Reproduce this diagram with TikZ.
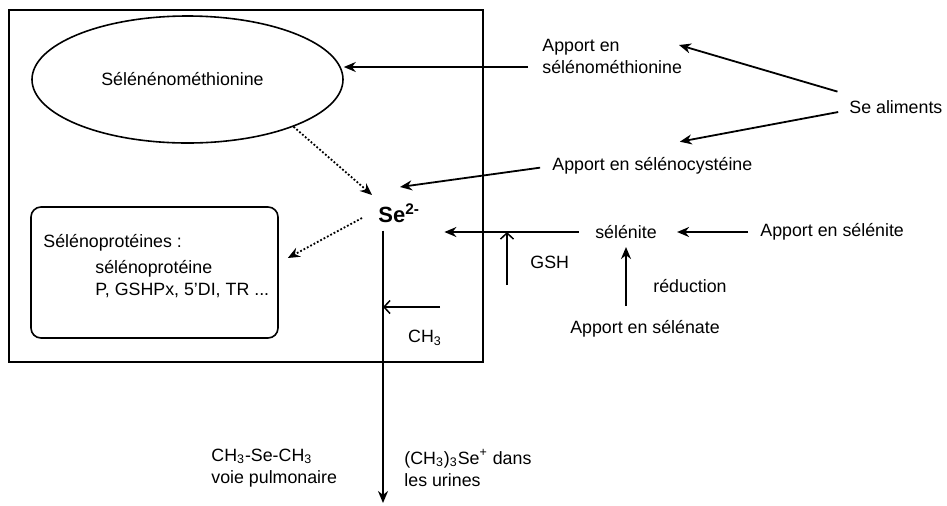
\documentclass[tikz,border=0pt]{standalone}
\usepackage{fontspec}
\setmainfont{Liberation Sans}
\usepackage{tikz}
\usetikzlibrary{positioning,arrows.meta,calc,shapes.geometric}
\newcommand{\labsize}{\fontsize{8.9}{11}\selectfont}
\tikzset{
    every node/.style={font=\labsize},
    txt/.style={inner sep=0pt,anchor=west,align=left},
    cell/.style={draw,line width=0.8pt},
    compart/.style={ellipse,draw,line width=0.8pt,minimum width=155.5pt,minimum height=63.5pt,inner sep=0pt},
    protbox/.style={rectangle,rounded corners=5pt,draw,line width=0.8pt,minimum width=123.5pt,minimum height=65.5pt},
    ion/.style={inner sep=0pt,anchor=base west,font=\fontsize{11}{13}\selectfont\bfseries},
    flow/.style={draw,line width=0.9pt,-{Stealth[length=6pt,width=5pt]}},
    dotflow/.style={flow,densely dotted},
    push/.style={draw,line width=0.75pt,-{Straight Barb[length=3pt,width=6.5pt]}}
}

\begin{document}
\begin{tikzpicture}[x=0.5pt,y=-0.5pt]
\useasboundingbox (0,0) rectangle (947,505);
% la cellule
\draw[cell] (9,10) rectangle (483,362);
\node[compart] (selmet) at (187.5,79.5) {Sélénénométhionine\hspace*{5pt}};
\node[protbox] (selpro) at (154.5,272.5) {};
\node[txt] (prottxt) at (43,266) {Sélénoprotéines :\\[2pt]
    \hspace*{26pt}sélénoprotéine\\
    \hspace*{26pt}P, GSHPx, 5'DI, TR ...};
\node[ion] (se) at (378,222) {Se\textsuperscript{2-}};

% les apports
\node[txt] (apmet) at (542,47) {Apport en};
\node[txt] (apmet2) at (542,67) {sélénométhionine};
\node[txt] (apcys) at (552,166) {Apport en sélénocystéine};
\node[txt] (sealim) at (849,107) {Se aliments};
\node[txt,anchor=center] (selite) at (626,232) {sélénite};
\node[txt] (apite) at (760,232) {Apport en sélénite};
\node[txt,anchor=center] (apate) at (645,329) {Apport en sélénate};
\node[txt] (reduc) at (653,286) {réduction};
\node[txt] (gsh) at (530,262) {GSH};
\node[txt,anchor=center] (ch3) at (425,338) {CH\textsubscript{3}};

% les sorties
\node[txt] (dimeth) at (211,468) {CH\textsubscript{3}-Se-CH\textsubscript{3}\\voie pulmonaire};
\node[txt] (trimeth) at (404,468) {(CH\textsubscript{3})\textsubscript{3}Se\textsuperscript{+} dans\\les urines};

\coordinate (gshin) at (507,285);
\coordinate (ch3in) at (440,307);
\coordinate (out) at (383,503);

\draw[flow,shorten <=6pt] ([yshift=6pt]sealim.west) -- ([shift={(29.5pt,1pt)}]apmet.east);
\draw[flow,shorten <=5.5pt] ([yshift=-1.5pt]sealim.west) -- ([shift={(13.75pt,7.75pt)}]apcys.north);
\draw[flow,shorten <=7pt] (apmet2.west) -- (apmet2.west -| selmet.east);
\draw[flow,shorten <=6pt] (apcys.west) -- ([shift={(11pt,17.5pt)}]se.base west);
\draw[dotflow] (selmet.-24) -- ([shift={(-3pt,13.5pt)}]se.base west);
\draw[dotflow] ([shift={(-8pt,2pt)}]se.base west) -- ([shift={(4.5pt,7.25pt)}]selpro.east);
\draw[flow,shorten <=8pt,shorten >=12pt] (selite.west) -- (selite.west -| se.east);
\draw[flow,shorten <=6pt,shorten >=10pt] (apite.west) -- (selite.east);
\draw[flow,shorten <=7pt,shorten >=4pt] (apate.north -| selite) -- (selite.south);
\draw[push] (gshin) -- (gshin |- selite.west);
\draw[push] (ch3in) -- (ch3in -| out);
\draw[flow,shorten <=4pt] (se.south -| out) -- (out);
\end{tikzpicture}
\end{document}
